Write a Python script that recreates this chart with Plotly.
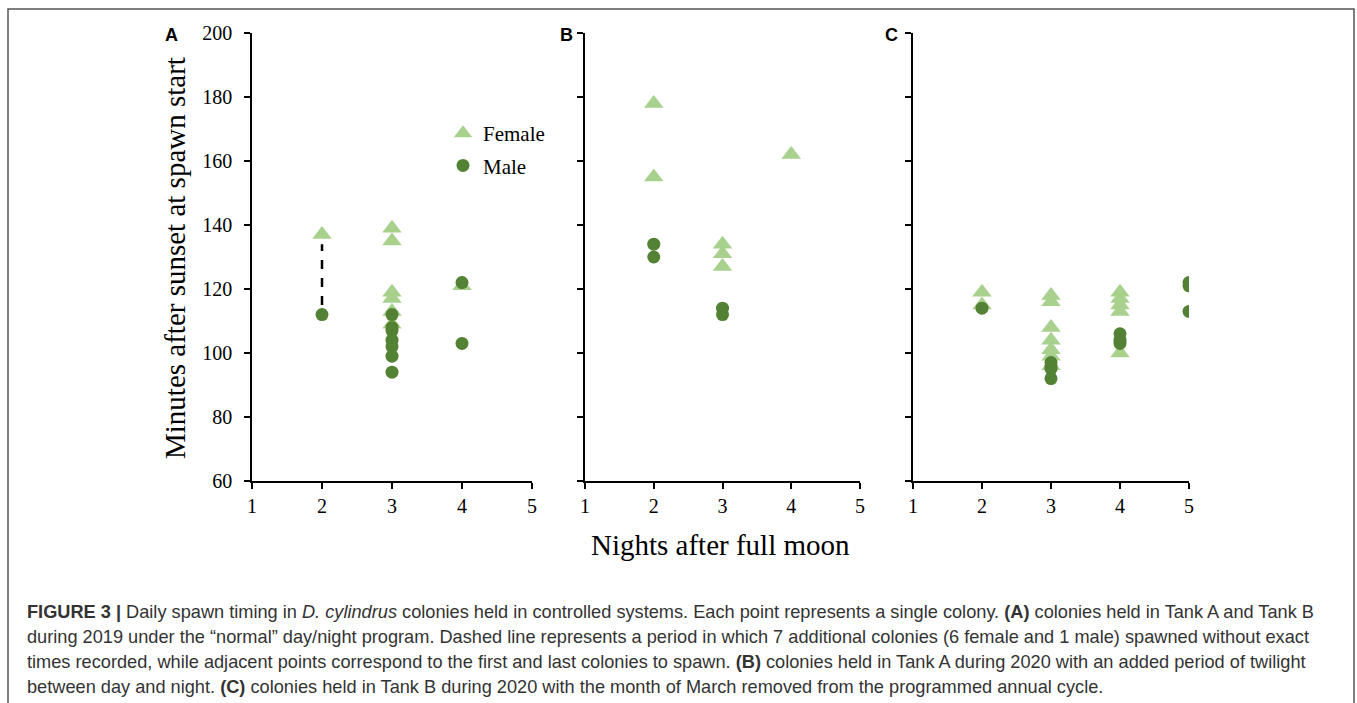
import plotly.graph_objects as go

# ---------------- data ----------------
a_female_x = [2, 3, 3, 3, 3, 3, 3, 4]
a_female_y = [137, 139, 135, 119, 117, 113, 109, 121]
a_male_x = [2, 3, 3, 3, 3, 3, 3, 3, 4, 4]
a_male_y = [112, 112, 108, 107, 104, 102, 99, 94, 122, 103]
a_gap_x = [2, 2]
a_gap_y = [115, 134]

b_female_x = [2, 2, 3, 3, 3, 4]
b_female_y = [178, 155, 134, 131, 127, 162]
b_male_x = [2, 2, 3, 3]
b_male_y = [134, 130, 114, 112]

c_female_x = [2, 2, 3, 3, 3, 3, 3, 3, 3, 4, 4, 4, 4, 4]
c_female_y = [119, 115, 118, 116, 108, 104, 101, 99, 96, 119, 117, 115, 113, 100]
c_male_x = [2, 3, 3, 3, 3, 4, 4, 4, 5, 5, 5]
c_male_y = [114, 97, 96, 95, 92, 106, 104, 103, 122, 121, 113]

x_ticks = [1, 2, 3, 4, 5]
y_ticks = [60, 80, 100, 120, 140, 160, 180, 200]
panel_labels = ["A", "B", "C"]

FEMALE_C = "#a9d18e"
MALE_C = "#548235"
SERIF = "Liberation Serif, Times New Roman, serif"
SANS = "Liberation Sans, Arial, sans-serif"

W, H = 1357, 703

fig = go.Figure()

panels = [
    (a_female_x, a_female_y, a_male_x, a_male_y, "x", "y"),
    (b_female_x, b_female_y, b_male_x, b_male_y, "x2", "y2"),
    (c_female_x, c_female_y, c_male_x, c_male_y, "x3", "y3"),
]

# dashed gap line in A
fig.add_trace(go.Scatter(x=a_gap_x, y=a_gap_y, mode="lines",
                         line=dict(color="black", width=2.5, dash="dash"),
                         xaxis="x", yaxis="y", showlegend=False, hoverinfo="skip"))

for i, (fx, fy, mx, my, xa, ya) in enumerate(panels):
    fig.add_trace(go.Scatter(x=fx, y=fy, mode="markers", name="Female",
                             marker=dict(symbol="triangle-up", size=17, color=FEMALE_C),
                             xaxis=xa, yaxis=ya, showlegend=(i == 0),
                             legendgroup="f", legendrank=1))
for i, (fx, fy, mx, my, xa, ya) in enumerate(panels):
    fig.add_trace(go.Scatter(x=mx, y=my, mode="markers", name="Male",
                             marker=dict(symbol="circle", size=13, color=MALE_C),
                             xaxis=xa, yaxis=ya, showlegend=(i == 0),
                             legendgroup="m", legendrank=2))

x_px = [(252, 532), (585, 860), (913, 1189)]
y_top, y_bot = 33, 481
ydom = [(H - y_bot) / H, (H - y_top) / H]

axis_common = dict(showline=True, linecolor="black", linewidth=1.5,
                   ticks="outside", ticklen=6, tickwidth=1.5, tickcolor="black",
                   showgrid=False, zeroline=False, automargin=False,
                   tickfont=dict(family=SERIF, size=20, color="black"))

layout = {}
for i, (l, r) in enumerate(x_px):
    suffix = "" if i == 0 else str(i + 1)
    layout["xaxis" + suffix] = dict(axis_common, domain=[l / W, r / W], range=[1, 5],
                                    tickvals=x_ticks, anchor="y" + suffix)
    layout["yaxis" + suffix] = dict(axis_common, domain=ydom, range=[60, 200],
                                    tickvals=y_ticks, anchor="x" + suffix,
                                    showticklabels=(i == 0), ticklabelstandoff=8)

annotations = []
label_x = [171, 566, 891]
for lab, lx in zip(panel_labels, label_x):
    annotations.append(dict(text="<b>%s</b>" % lab, x=lx / W, y=(H - 35) / H,
                            xref="paper", yref="paper", showarrow=False,
                            xanchor="center", yanchor="middle",
                            font=dict(family=SANS, size=18, color="black")))
annotations.append(dict(text="Minutes after sunset at spawn start", textangle=-90,
                        x=175 / W, y=(H - 258) / H, xref="paper", yref="paper",
                        showarrow=False, xanchor="center", yanchor="middle",
                        font=dict(family=SERIF, size=29, color="black")))
annotations.append(dict(text="Nights after full moon",
                        x=720 / W, y=(H - 545) / H, xref="paper", yref="paper",
                        showarrow=False, xanchor="center", yanchor="middle",
                        font=dict(family=SERIF, size=29, color="black")))

caption_lines = [
    "<b>FIGURE 3 |</b> Daily spawn timing in <i>D. cylindrus</i> colonies held in controlled systems. Each point represents a single colony. <b>(A)</b> colonies held in Tank A and Tank B",
    "during 2019 under the \u201cnormal\u201d day/night program. Dashed line represents a period in which 7 additional colonies (6 female and 1 male) spawned without exact",
    "times recorded, while adjacent points correspond to the first and last colonies to spawn. <b>(B)</b> colonies held in Tank A during 2020 with an added period of twilight",
    "between day and night. <b>(C)</b> colonies held in Tank B during 2020 with the month of March removed from the programmed annual cycle.",
]
cap_y = [612, 637, 662, 687]
for line, cy in zip(caption_lines, cap_y):
    annotations.append(dict(text=line, x=25 / W, y=(H - cy) / H, xref="paper", yref="paper",
                            showarrow=False, xanchor="left", yanchor="middle", align="left",
                            font=dict(family=SANS, size=18.2, color="#333333")))

shapes = [dict(type="rect", xref="paper", yref="paper",
               x0=8 / W, x1=1354 / W, y0=-0.05, y1=(H - 9) / H,
               line=dict(color="#555555", width=1.5), fillcolor="rgba(0,0,0,0)")]

fig.update_layout(**layout)
fig.update_layout(
    width=W, height=H, margin=dict(l=0, r=0, t=0, b=0, autoexpand=False),
    paper_bgcolor="white", plot_bgcolor="white",
    annotations=annotations, shapes=shapes,
    showlegend=True,
    legend=dict(x=443 / W, y=(H - 113) / H, xanchor="left", yanchor="top",
                bgcolor="rgba(0,0,0,0)", font=dict(family=SERIF, size=21, color="black"),
                itemwidth=30, tracegroupgap=2, traceorder="grouped"),
)

fig.write_html("out.html")
